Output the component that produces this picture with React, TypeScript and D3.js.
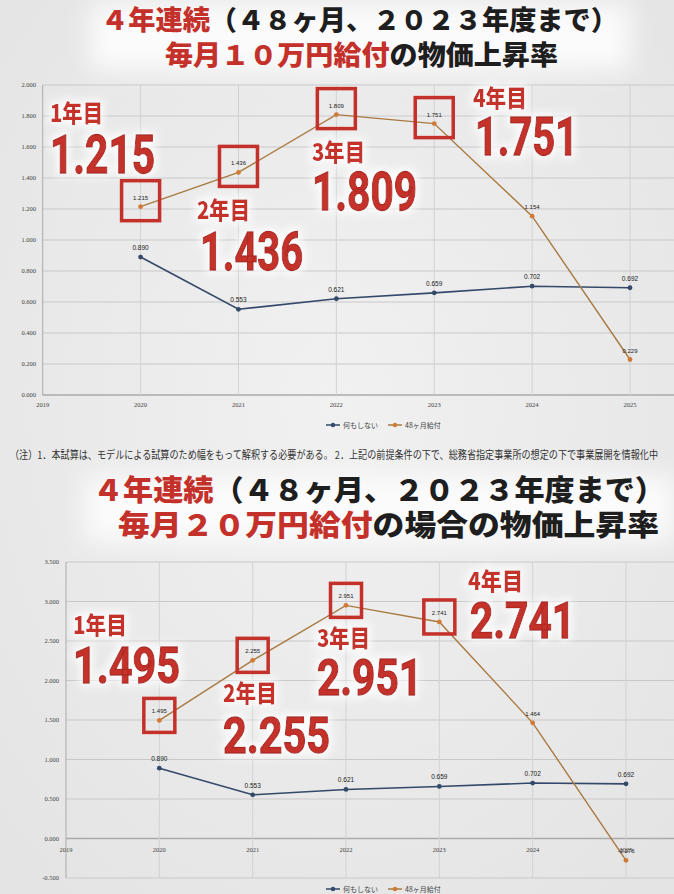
import React from "react";
import * as d3 from "d3";

// values
const years = [2020, 2021, 2022, 2023, 2024, 2025];
const axisYears = [2019, 2020, 2021, 2022, 2023, 2024, 2025];
const doNothing = [0.89, 0.553, 0.621, 0.659, 0.702, 0.692];
const pay10 = [1.215, 1.436, 1.809, 1.751, 1.154, 0.229];
const pay20 = [1.495, 2.255, 2.951, 2.741, 1.464, -0.276];
const ticks10 = [0, 0.2, 0.4, 0.6, 0.8, 1.0, 1.2, 1.4, 1.6, 1.8, 2.0];
const ticks20 = [-0.5, 0, 0.5, 1.0, 1.5, 2.0, 2.5, 3.0, 3.5];
const ordinals = ["1年目", "2年目", "3年目", "4年目"];
const seriesNames = ["何もしない", "48ヶ月給付"];

const RED = "#c4302a";
const BLUE = "#34496a";
const ORANGE = "#a97a40";
const ORANGE_DOT = "#d27a35";
const CJK = "'Noto Sans CJK JP', sans-serif";

type Ann = { x: number; y: number; w: number }; // label pos
type ChartCfg = {
  values: number[];
  ticks: number[];
  yDomain: [number, number];
  xRange: [number, number];
  yRange: [number, number];
  yLabelX: number;
  xLabelY: number;
  legendY: number;
  box: { w: number; h: number; dy: number };
  ords: Ann[];
  nums: Ann[];
  numSize: number;
};

const Chart: React.FC<{ cfg: ChartCfg }> = ({ cfg }) => {
  const x = d3.scaleLinear().domain([2019, 2025]).range(cfg.xRange);
  const y = d3.scaleLinear().domain(cfg.yDomain).range(cfg.yRange);
  const line = d3
    .line<number>()
    .x((_, i) => x(years[i]))
    .y((d) => y(d));
  const [x0] = cfg.xRange;
  const [yb, yt] = cfg.yRange;

  return (
    <g>
      {/* grid */}
      {cfg.ticks.map((t) => (
        <line key={"h" + t} x1={x0} x2={674} y1={y(t)} y2={y(t)}
          stroke={t === 0 ? "#aaa" : "#c9c9c9"} strokeWidth={t === 0 ? 1.6 : 1} />
      ))}
      {axisYears.map((yr) => (
        <line key={"v" + yr} x1={x(yr)} x2={x(yr)} y1={yt} y2={yb}
          stroke={yr === 2019 ? "#aaa" : "#d2d2d2"} strokeWidth={1} />
      ))}
      {cfg.ticks.map((t) => (
        <text key={"yl" + t} x={cfg.yLabelX} y={y(t) + 2} textAnchor="end"
          fontSize={6.5} fill="#444" fontFamily="'Liberation Serif', serif">
          {t.toFixed(3)}
        </text>
      ))}
      {axisYears.map((yr) => (
        <text key={"xl" + yr} x={x(yr)} y={cfg.xLabelY} textAnchor="middle"
          fontSize={6.5} fill="#444" fontFamily="'Liberation Serif', serif">
          {yr}
        </text>
      ))}

      {/* big annotations */}
      {cfg.ords.map((a, i) => (
        <text key={"o" + i} x={a.x} y={a.y} fontSize={24} fontWeight={900} fill={RED}
          fontFamily={CJK} textLength={a.w} lengthAdjust="spacingAndGlyphs" filter="url(#glow)">
          {ordinals[i]}
        </text>
      ))}
      {cfg.nums.map((a, i) => (
        <text key={"n" + i} x={a.x} y={a.y} fontSize={cfg.numSize} fontWeight={700} fill={RED}
          stroke="#b02a24" strokeWidth={1.3}
          fontFamily="Roboto, sans-serif" textLength={a.w} lengthAdjust="spacingAndGlyphs"
          filter="url(#glow)">
          {cfg.values[i].toFixed(3)}
        </text>
      ))}

      {/* series */}
      <path d={line(doNothing) ?? ""} fill="none" stroke={BLUE} strokeWidth={1.6} />
      <path d={line(cfg.values) ?? ""} fill="none" stroke={ORANGE} strokeWidth={1.4} />
      {doNothing.map((v, i) => (
        <g key={"b" + i}>
          <circle cx={x(years[i])} cy={y(v)} r={2.4} fill={BLUE} />
          <text x={x(years[i])} y={y(v) - 7} textAnchor="middle" fontSize={6.5}
            fill="#222" fontFamily="'Liberation Sans', sans-serif">
            {v.toFixed(3)}
          </text>
        </g>
      ))}
      {cfg.values.map((v, i) => (
        <g key={"p" + i}>
          <circle cx={x(years[i])} cy={y(v)} r={2.4} fill={ORANGE_DOT} />
          <text x={x(years[i])} y={y(v) - 7} textAnchor="middle" fontSize={6}
            fill="#222" fontFamily="'Liberation Sans', sans-serif">
            {v.toFixed(3)}
          </text>
        </g>
      ))}
      {cfg.values.slice(0, 4).map((v, i) => (
        <rect key={"r" + i}
          x={x(years[i]) - cfg.box.w / 2} y={y(v) + cfg.box.dy - cfg.box.h / 2}
          width={cfg.box.w} height={cfg.box.h}
          fill="none" stroke={RED} strokeWidth={3.5} />
      ))}

      {/* legend */}
      <g fontSize={7} fill="#444" fontFamily={CJK}>
        <line x1={326} x2={340} y1={cfg.legendY} y2={cfg.legendY} stroke={BLUE} strokeWidth={1.5} />
        <circle cx={333} cy={cfg.legendY} r={2.2} fill={BLUE} />
        <text x={343} y={cfg.legendY + 2.5}>{seriesNames[0]}</text>
        <line x1={388} x2={402} y1={cfg.legendY} y2={cfg.legendY} stroke={ORANGE} strokeWidth={1.5} />
        <circle cx={395} cy={cfg.legendY} r={2.2} fill={ORANGE_DOT} />
        <text x={405} y={cfg.legendY + 2.5}>{seriesNames[1]}</text>
      </g>
    </g>
  );
};

const topCfg: ChartCfg = {
  values: pay10,
  ticks: ticks10,
  yDomain: [0, 2],
  xRange: [42.7, 630],
  yRange: [395, 85],
  yLabelX: 36,
  xLabelY: 407,
  legendY: 425,
  box: { w: 38, h: 40, dy: -6 },
  ords: [
    { x: 50, y: 122, w: 53 },
    { x: 197, y: 219, w: 53 },
    { x: 312, y: 161, w: 53 },
    { x: 473, y: 107, w: 54 },
  ],
  nums: [
    { x: 50, y: 173, w: 105 },
    { x: 200, y: 270, w: 103 },
    { x: 312, y: 210, w: 105 },
    { x: 475, y: 155, w: 103 },
  ],
  numSize: 53,
};

const bottomCfg: ChartCfg = {
  values: pay20,
  ticks: ticks20,
  yDomain: [-0.5, 3.5],
  xRange: [66, 626],
  yRange: [878, 562],
  yLabelX: 59,
  xLabelY: 852,
  legendY: 889,
  box: { w: 31, h: 34, dy: -5 },
  ords: [
    { x: 73, y: 634, w: 54 },
    { x: 223, y: 702, w: 54 },
    { x: 317, y: 647, w: 53 },
    { x: 468, y: 590, w: 55 },
  ],
  nums: [
    { x: 73, y: 683, w: 107 },
    { x: 223, y: 753, w: 107 },
    { x: 317, y: 695, w: 105 },
    { x: 470, y: 638, w: 105 },
  ],
  numSize: 50,
};

const Title: React.FC<{ y1: number; y2: number; x1: number; w1: number; x2: number; w2: number; size: number; amount: string; tail: string }> =
  ({ y1, y2, x1, w1, x2, w2, size, amount, tail }) => (
    <g fontFamily={CJK} fontWeight={900} fontSize={size}>
      <text x={x1} y={y1} textLength={w1} lengthAdjust="spacingAndGlyphs">
        <tspan fill={RED}>４年連続</tspan>
        <tspan fill="#1e1e1e">（４８ヶ月、２０２３年度まで）</tspan>
      </text>
      <text x={x2} y={y2} textLength={w2} lengthAdjust="spacingAndGlyphs">
        <tspan fill={RED}>{amount}</tspan>
        <tspan fill="#1e1e1e">{tail}</tspan>
      </text>
    </g>
  );

export default function App() {
  return (
    <svg width={674} height={894} style={{ position: "absolute", left: 0, top: 0 }}>
      <defs>
        <filter id="glow" x="-30%" y="-40%" width="160%" height="180%">
          <feMorphology in="SourceAlpha" operator="dilate" radius={3} result="d" />
          <feGaussianBlur in="d" stdDeviation={4} result="b" />
          <feFlood floodColor="#ffffff" floodOpacity={0.85} />
          <feComposite in2="b" operator="in" result="g" />
          <feMerge>
            <feMergeNode in="g" />
            <feMergeNode in="SourceGraphic" />
          </feMerge>
        </filter>
        <filter id="soft" x="-20%" y="-50%" width="140%" height="200%">
          <feGaussianBlur stdDeviation={12} />
        </filter>
        <radialGradient id="bg" cx="50%" cy="45%" r="70%">
          <stop offset="0%" stopColor="#f1f1f1" />
          <stop offset="100%" stopColor="#e4e4e4" />
        </radialGradient>
      </defs>
      <rect width={674} height={894} fill="url(#bg)" />
      <rect x={90} y={4} width={540} height={66} fill="#fbfbfb" filter="url(#soft)" />
      <rect x={85} y={476} width={590} height={66} fill="#fbfbfb" filter="url(#soft)" />

      <Title y1={30} y2={65} x1={101} w1={517} x2={165} w2={393} size={27}
        amount="毎月１０万円給付" tail="の物価上昇率" />
      <Chart cfg={topCfg} />
      <text x={10} y={459} fontSize={11} fill="#333" fontFamily={CJK} textLength={648}
        lengthAdjust="spacingAndGlyphs">
        （注）1．本試算は、モデルによる試算のため幅をもって解釈する必要がある。 2．上記の前提条件の下で、総務省指定事業所の想定の下で事業展開を情報化中
      </text>

      <Title y1={501} y2={536} x1={93} w1={572} x2={118} w2={541} size={29}
        amount="毎月２０万円給付" tail="の場合の物価上昇率" />
      <Chart cfg={bottomCfg} />
    </svg>
  );
}
